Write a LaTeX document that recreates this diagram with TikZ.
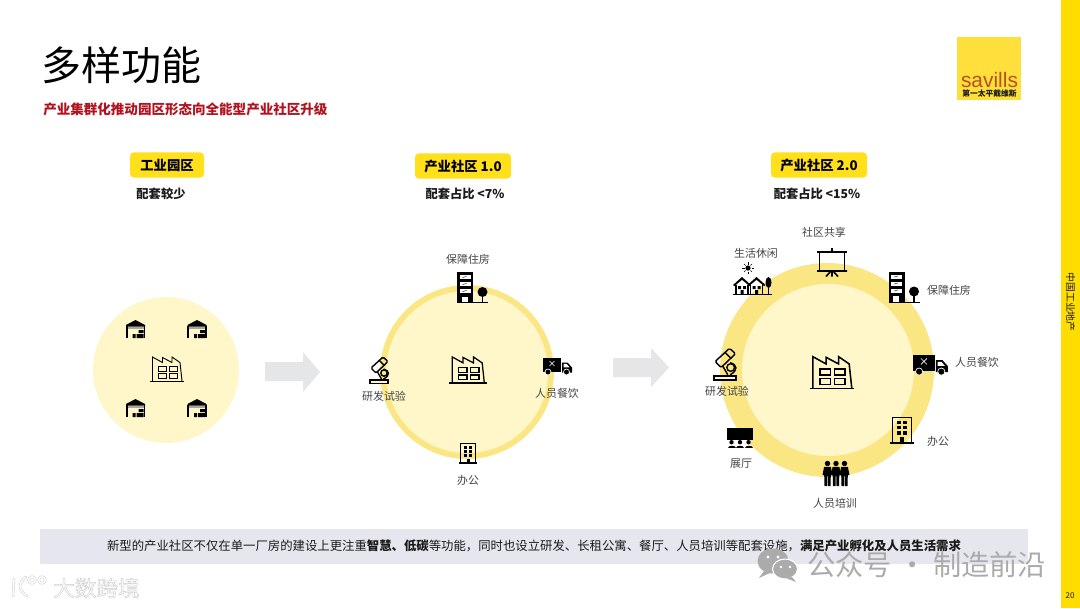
\documentclass[tikz,border=0pt]{standalone}
\usepackage{fontspec}
\setmainfont{Noto Sans CJK SC}
\newfontfamily\latinfont{Liberation Sans}
\definecolor{band}{HTML}{FFDD00}
\definecolor{tagy}{HTML}{FFE01A}
\definecolor{pale}{HTML}{FFF7C9}
\definecolor{ring}{HTML}{FBE684}
\definecolor{barg}{HTML}{E6E7EE}
\definecolor{arrowg}{HTML}{E4E6E8}
\definecolor{sred}{HTML}{B2121E}
\definecolor{ink}{HTML}{1A1A1A}
\definecolor{lab}{HTML}{444444}
\definecolor{logoy}{HTML}{FFDF3C}
\definecolor{logor}{HTML}{B5521E}
\definecolor{wm}{HTML}{ABABAB}
\definecolor{wmsoft}{HTML}{D4D4D4}
\tikzset{
  tag/.style={fill=tagy,rounded corners=3pt,font=\fontsize{10}{12}\selectfont\bfseries,text=black,inner sep=0pt,minimum height=19pt},
  sublab/.style={font=\fontsize{9.2}{11}\selectfont\bfseries,text=ink,inner sep=0pt},
  lbl/.style={font=\fontsize{8.2}{10}\selectfont,text=lab,inner sep=0pt},
  blockarrow/.style={fill=arrowg,draw=none},
  ic/.style={draw=black,line join=miter,fill=none},
  pics/factory/.style={code={
    \draw[ic] (-17,12) -- (17,12);
    \draw[ic] (-14.5,12) -- (-14.5,-12) -- (-4.5,-6.5) -- (-4.5,-11.5) -- (5,-6.5) -- (5,-12) -- (13,-6.5) -- (15,12);
    \foreach \a in {-9,2}{\foreach \b in {-2.5,4.5}{\draw[ic] (\a,\b) rectangle ++(8,4.5);}}
  }},
  pics/warehouse/.style={code={
    \fill (-9.5,-4) -- (0,-9) -- (9.5,-4) -- (9.5,-2.5) -- (-9.5,-2.5) -- cycle;
    \draw[line width=1.2pt] (-8.8,-3) -- (-8.8,9) (8.8,-3) -- (8.8,9);
    \fill[gray!70] (-8,-1.8) rectangle (8,0);
    \fill (3,1) rectangle (8,4) (-3,5) rectangle (0,9) (1,5) rectangle (8,9);
  }},
  pics/tower/.style={code={
    \fill (-15.5,-15.5) rectangle (0.5,15);
    \foreach \b in {-12.5,-5.5,1.5}{\fill[white] (-13,\b) rectangle (-2,\b+4);\draw[black,line width=.3pt] (-10,\b+2.6) -- (-6,\b+1.4);}
    \fill[white] (-11,9) rectangle (-5,15);
    \fill (10,4.5) circle (5);
    \draw[line width=.8pt] (-15.5,15.2) -- (15.5,15.2) (10,8) -- (10,15);
  }},
  pics/scope icon/.style={code={
    \draw[line width=1.05pt,rounded corners=1pt] (-9.5,-2.5) -- (2.5,-13.5) -- (7.5,-9) -- (-4.5,2.5) -- cycle;
    \draw[line width=1.05pt] (-1,-9.8) -- (4,-5);
    \draw[line width=1.05pt] (-3,1.5) -- (1,8.5);
    \draw[line width=1.05pt] (3,-1.5) .. controls (9,0) and (10,5) .. (3,8.5);
    \draw[line width=1.05pt] (3.5,2.5) circle (3.2);
    \fill (-11.5,8.5) rectangle (8.5,13.5);
    \fill[pale] (-9.8,10) rectangle (6.8,12);
  }},
  pics/truck/.style={code={
    \fill (-14.5,-8.5) rectangle (3.5,5);
    \fill (4.5,-4) -- (10,-4) -- (14.5,1) -- (14.5,6) -- (4.5,6) -- cycle;
    \fill[white] (6,-2.6) -- (9.2,-2.6) -- (12,.8) -- (6,.8) -- cycle;
    \draw[white,line width=.5pt] (-8,-5.5) -- (-3,-.5) (-3,-5.5) -- (-8,-.5);
    \filldraw[draw=white,line width=.5pt,fill=black] (-9.5,5.5) circle (3) (9,5.5) circle (3);
  }},
  pics/office/.style={code={
    \draw[line width=1pt] (-7.5,9.5) -- (-7.5,-9.5) -- (7.5,-9.5) -- (7.5,9.5);
    \draw[line width=1pt] (-9,10) -- (9,10);
    \foreach \a in {-3.8,.8}{\foreach \b in {-7,-3,1}{\fill (\a,\b) rectangle ++(3,2.6);}}
    \fill (-1.5,5.5) rectangle (1.5,10);
  }},
  pics/board/.style={code={
    \draw[line width=1.2pt] (-15,-10.5) -- (15,-10.5) (0,-14.5) -- (0,-10.5);
    \draw[line width=1.3pt] (-12.5,-10.5) rectangle (12.5,8.5);
    \draw[line width=1.2pt] (-15,8.5) -- (15,8.5) (0,8.5) -- (0,14) (-1,8.5) -- (-6,14) (1,8.5) -- (6,14);
  }},
  pics/houses/.style={code={
    \foreach \a in {-10.5,4}{
      \fill (\a-9,-1) -- (\a,-9) -- (\a+9,-1) -- (\a+7.5,0) -- (\a,-6.2) -- (\a-7.5,0) -- cycle;
      \draw[line width=.8pt] (\a-6,-1) -- (\a-6,8) (\a+6,-1) -- (\a+6,8);
      \fill (\a-4,0) rectangle (\a-1,3) (\a+1,0) rectangle (\a+4,3) (\a-1.5,4) rectangle (\a+1.5,8);
    }
    \fill (16,-3.5) ellipse (3 and 5.5);
    \draw[line width=.8pt] (16,0) -- (16,8);
    \draw[line width=1pt] (-19.5,8.6) -- (19.5,8.6);
  }},
  pics/sun/.style={code={
    \fill (0,0) circle (2.6);
    \foreach \t in {0,45,...,315}{\draw[line width=.5pt] (\t:3.5) -- (\t:5.6);}
  }},
  pics/hall/.style={code={
    \fill (-13,-10) rectangle (13,2);
    \foreach \a in {-8.5,0,8.5}{
      \fill (\a,4.2) circle (2.2);
      \fill (\a-4,10) .. controls (\a-4,6.5) and (\a+4,6.5) .. (\a+4,10) -- cycle;
    }
  }},
  pics/person/.style={code={
    \fill (0,-9.5) circle (2.7);
    \fill (-3.4,-6.2) -- (3.4,-6.2) -- (5,2) -- (3.3,2) -- (3,13) -- (.5,13) -- (.3,3) -- (-.3,3) -- (-.5,13) -- (-3,13) -- (-3.3,2) -- (-5,2) -- cycle;
  }},
}
\begin{document}
\begin{tikzpicture}[x=.75pt,y=-.75pt]
\useasboundingbox (0,0) rectangle (1080,608);
\fill[white] (0,0) rectangle (1080,608);
% side band
\fill[band] (1061,0) rectangle (1080,608);
\node[rotate=-90,font=\fontsize{7.4}{9}\selectfont,text=ink,inner sep=0pt] (side) at (1070.5,302) {中国工业地产};
\node[font=\fontsize{6}{7}\selectfont,text=ink,inner sep=0pt] (pageno) at (1070,596) {20};
% title
\node[anchor=west,font=\fontsize{30}{34}\selectfont,text=black,inner sep=0pt] (title) at (41,65) {多样功能};
\node[anchor=west,font=\fontsize{10.15}{12}\selectfont\bfseries,text=sred,inner sep=0pt] (subtitle) at (43,109) {产业集群化推动园区形态向全能型产业社区升级};
% logo
\fill[logoy] (957,37) rectangle (1021,100);
\node[anchor=base,font=\latinfont\fontsize{15.7}{17}\selectfont,text=logor,inner sep=0pt] (savills) at (989.5,87) {savills};
\node[anchor=north,font=\fontsize{5.8}{6}\selectfont\bfseries,text=ink,inner sep=0pt] (savcn) at (989.5,89.5) {第一太平戴维斯};
% tags
\node[tag,minimum width=55.5pt] (t1) at (167,165) {工业园区};
\node[tag,minimum width=72pt] (t2) at (463,166) {产业社区 1.0};
\node[tag,minimum width=72pt] (t3) at (819,165) {产业社区 2.0};
\node[sublab] (s1) at (161,193.5) {配套较少};
\node[sublab] (s2) at (465,193.5) {配套占比 <7\%};
\node[sublab] (s3) at (817,193.5) {配套占比 <15\%};
% circles
\fill[pale] (166,370) circle (73);
\fill[ring] (467,372) circle (87);
\fill[pale] (467,372) circle (81);
\fill[ring] (827,370) circle (107);
\fill[pale] (828,370) circle (86);
% arrows
\fill[blockarrow] (265,362) -- (303,362) -- (303,352) -- (320,372) -- (303,392) -- (303,381) -- (265,381) -- cycle;
\fill[blockarrow] (613,358) -- (651,358) -- (651,348) -- (669,367.5) -- (651,387) -- (651,377) -- (613,377) -- cycle;
% circle 1 icons
\pic[line width=.7pt] (f1) at (167,369) {factory};
\pic (w1) at (135.5,329) {warehouse};
\pic (w2) at (197,329) {warehouse};
\pic (w3) at (135.5,408) {warehouse};
\pic (w4) at (197,408) {warehouse};
% circle 2 icons
\pic[scale=1.09,line width=.95pt] (f2) at (468,370) {factory};
\pic (b2) at (472.5,287.5) {tower};
\pic (m2) at (380.5,370.5) {scope icon};
\pic (tr2) at (557.5,366.5) {truck};
\pic (o2) at (468,453) {office};
\node[lbl] (l21) at (468,259) {保障住房};
\node[lbl] (l22) at (384,396) {研发试验};
\node[lbl] (l23) at (557,393) {人员餐饮};
\node[lbl] (l24) at (468,480) {办公};
% circle 3 icons
\pic[scale=1.32,line width=1.15pt] (f3) at (832,372.5) {factory};
\pic (b3) at (904,287) {tower};
\pic[scale=1.2] (m3) at (726.5,364.5) {scope icon};
\pic[scale=1.2] (tr3) at (930.5,365) {truck};
\pic[scale=1.3] (o3) at (902,430) {office};
\pic (bd) at (832,262.5) {board};
\pic (hs) at (752.5,286) {houses};
\pic (sn) at (748,268) {sun};
\pic (hl) at (740,438) {hall};
\pic (p1) at (827.5,473) {person};
\pic (p2) at (836,473) {person};
\pic (p3) at (844.5,473) {person};
\node[lbl] (l31) at (824,232) {社区共享};
\node[lbl] (l32) at (756,253) {生活休闲};
\node[lbl] (l33) at (949,290) {保障住房};
\node[lbl] (l34) at (977,362) {人员餐饮};
\node[lbl] (l35) at (938,441) {办公};
\node[lbl] (l36) at (741,464) {展厅};
\node[lbl] (l37) at (835,503) {人员培训};
\node[lbl] (l38) at (727,391) {研发试验};
% bottom bar
\fill[barg] (40,529) rectangle (1028,564);
\node[font=\fontsize{9.28}{11}\selectfont,text=ink,inner sep=0pt] (note) at (534,546) {新型的产业社区不仅在单一厂房的建设上更注重{\bfseries 智慧、低碳}等功能，同时也设立研发、长租公寓、餐厅、人员培训等配套设施，{\bfseries 满足产业孵化及人员生活需求}};
% watermarks
\fill[wm] (773,561) ellipse (15.5 and 12.5);
\fill[wm] (764,571) -- (759,578) -- (770,573) -- cycle;
\filldraw[draw=white,line width=.8pt,fill=wm] (785,569) ellipse (12.5 and 10);
\fill[wm] (792,577) -- (796,582) -- (786,578) -- cycle;
\fill[white] (768,557) circle (1.7) (778,557) circle (1.7) (781,567) circle (1.4) (790,567) circle (1.4);
\node[anchor=west,font=\fontsize{21.2}{24}\selectfont,text=wm,inner sep=0pt] (wm1) at (807,565) {公众号 · 制造前沿};
\node[anchor=west,font=\fontsize{16.2}{18}\selectfont,text=white,inner sep=0pt] (wm2) at (53,588) {\special{pdf:code q 2 Tr 0.35 w 0.8 G}大数跨境\special{pdf:code Q}};
\draw[wmsoft,line width=1.9pt,line cap=round] (14,579) -- (13,596) (26,577) .. controls (18,583) and (18,590) .. (27,596) (32,580) circle (3.3) (42,580) circle (3.3);
\draw[white,line width=1pt,line cap=round] (14,579) -- (13,596) (26,577) .. controls (18,583) and (18,590) .. (27,596) (32,580) circle (3.3) (42,580) circle (3.3);
\end{tikzpicture}
\end{document}
